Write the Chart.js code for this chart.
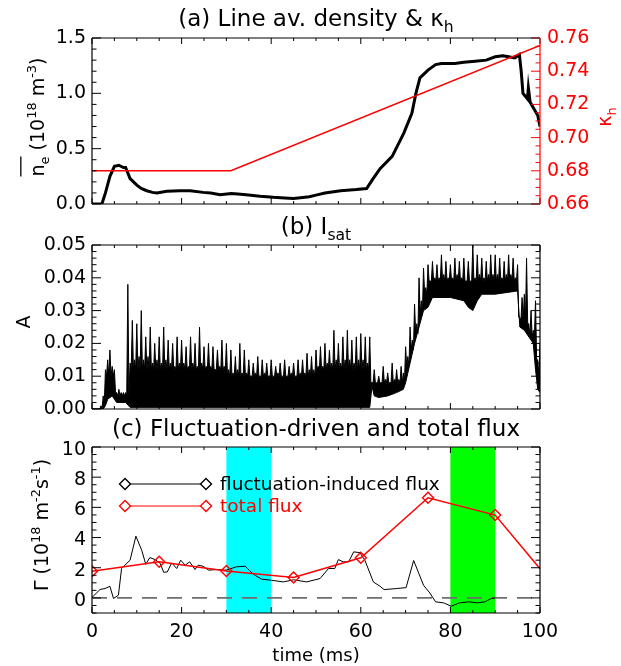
<!DOCTYPE html>
<html><head><meta charset="utf-8">
<script src="https://cdn.jsdelivr.net/npm/chart.js@4.4.1/dist/chart.umd.min.js"></script>
<style>
html,body{margin:0;padding:0;background:#fff;}
body{width:621px;height:666px;position:relative;overflow:hidden;}
canvas{position:absolute;left:0;}
</style></head><body>
<canvas id="ca" width="621" height="225" style="top:0px"></canvas>
<canvas id="cb" width="621" height="225" style="top:205px"></canvas>
<canvas id="cc" width="621" height="251" style="top:415px"></canvas>
<script>
// ---------- DATA ----------
// Panel (a): line-averaged density (1e18 m^-3) vs time (ms)
const densTime = [0, 2.2, 3, 4, 5, 6, 7, 7.5, 8.5, 10, 11, 12.2, 13.5, 14.5, 16.7, 19.6, 21.9, 24.8, 26.5, 28.6, 31.1, 32.5, 34.4, 37.5, 40.5, 43, 45, 48.5, 50, 52, 55.5, 59, 61.3, 62.6, 64.3, 67, 69.6, 71.4, 72.3, 73.2, 75, 76.7, 78, 81, 83, 85.5, 88, 90, 91.7, 93, 94.4, 95.4, 95.8, 96.2, 96.6, 97.2, 97.4, 97.8, 98.8, 99.5, 100];
const densVal  = [0, 0, 0.1, 0.25, 0.34, 0.35, 0.33, 0.33, 0.23, 0.17, 0.14, 0.12, 0.105, 0.1, 0.115, 0.12, 0.12, 0.105, 0.1, 0.084, 0.095, 0.09, 0.084, 0.069, 0.06, 0.055, 0.05, 0.066, 0.08, 0.1, 0.12, 0.13, 0.14, 0.22, 0.32, 0.43, 0.64, 0.82, 1.0, 1.14, 1.21, 1.26, 1.27, 1.27, 1.28, 1.29, 1.3, 1.33, 1.34, 1.33, 1.32, 1.35, 1.2, 1.0, 0.98, 0.95, 1.05, 0.92, 0.85, 0.8, 0.70];
// Panel (a): kappa_h (right axis)
const kappaTime = [0, 31, 100];
const kappaVal  = [0.68, 0.68, 0.7555];

// Panel (b): I_sat (A): tallest spikes at whole ms, secondary spikes at half ms,
// solid-core level (from each listed time onward) and lower edge of the trace
const isatPeak = [0,0,0.001,0.012,0.018,0.012,0.006,0.005,0.038,0.027,
  0.026,0.030,0.022,0.025,0.020,0.022,0.025,0.021,0.020,0.022,
  0.021,0.019,0.022,0.020,0.025,0.019,0.020,0.019,0.018,0.021,
  0.020,0.018,0.016,0.020,0.018,0.015,0.014,0.016,0.015,0.014,
  0.015,0.013,0.014,0.015,0.013,0.014,0.015,0.015,0.017,0.016,
  0.018,0.019,0.020,0.018,0.024,0.020,0.022,0.024,0.021,0.022,
  0.023,0.022,0.022,0.012,0.010,0.013,0.011,0.014,0.012,0.013,
  0.019,0.025,0.032,0.040,0.043,0.044,0.045,0.044,0.047,0.045,
  0.044,0.046,0.045,0.046,0.045,0.050,0.047,0.046,0.045,0.047,
  0.047,0.046,0.045,0.047,0.046,0.044,0.034,0.046,0.030,0.033,0.020];
const isatCore = [0,0,0.004,0.015,0.013,0.005,0.005,0.005,0.014,0.015,
  0.016,0.015,0.016,0.014,0.015,0.014,0.015,0.014,0.013,0.014,
  0.014,0.013,0.014,0.013,0.014,0.013,0.013,0.012,0.013,0.013,
  0.012,0.011,0.012,0.011,0.011,0.010,0.011,0.010,0.011,0.010,
  0.010,0.011,0.010,0.010,0.011,0.010,0.011,0.011,0.012,0.012,
  0.013,0.013,0.014,0.014,0.015,0.014,0.015,0.015,0.014,0.015,
  0.015,0.014,0.008,0.008,0.008,0.009,0.008,0.009,0.009,0.011,
  0.016,0.021,0.026,0.033,0.037,0.039,0.040,0.040,0.041,0.040,
  0.040,0.041,0.040,0.039,0.039,0.040,0.041,0.040,0.041,0.041,
  0.041,0.040,0.041,0.041,0.040,0.028,0.035,0.026,0.024,0.015];
const isatBaseTime = [0, 2.5, 3, 5.5, 8.5, 30, 50, 62.3, 70, 71, 72, 73, 74, 75, 95.3, 97.3, 99.3];
const isatBaseVal  = [0, 0.002, 0.010, 0.004, 0.012, 0.010, 0.012, 0.008, 0.013, 0.018, 0.023, 0.029, 0.035, 0.039, 0.027, 0.022, 0.010];
const isatLowTime = [0, 2.5, 3, 3.5, 4.5, 5.5, 7.5, 8.5, 62, 62.5, 63, 64, 66, 68, 69.5, 70, 71, 72, 73, 74, 75, 76, 80, 83, 84, 85, 86, 87, 90, 95, 95.5, 96.5, 98, 98.5, 99, 99.5, 100];
const isatLowVal  = [0, 0, 0.001, 0.003, 0.004, 0.002, 0.002, 0.0005, 0.0005, 0.007, 0.004, 0.0035, 0.004, 0.005, 0.006, 0.008, 0.014, 0.020, 0.025, 0.030, 0.031, 0.034, 0.034, 0.033, 0.031, 0.030, 0.033, 0.035, 0.035, 0.036, 0.025, 0.024, 0.021, 0.020, 0.012, 0.006, 0.005];

// Panel (c): fluctuation-induced flux and total flux (1e18 m^-2 s^-1)
const fluxTime = [0, 1.8, 2.9, 4.0, 4.8, 5.9, 6.6, 8.5, 9.8, 11.1, 12.0, 12.9, 14.1, 15.2, 16.0, 16.8, 17.8, 18.9, 19.8, 20.8, 21.8, 23.0, 23.7, 24.8, 26.0, 27.8, 30.0, 32.2, 34.2, 36.0, 37.9, 40.1, 42.7, 45.0, 47.9, 50.9, 52.8, 54.2, 55.0, 56.1, 57.3, 58.4, 59.8, 60.9, 62.8, 64.3, 65.2, 67.9, 70.1, 71.8, 74.0, 75.4, 76.7, 78.5, 80.2, 82.0, 84.2, 86.0, 87.7, 89.1, 90.0];
const fluxVal  = [0.03, 0.56, 0.62, 0.77, -0.04, 0.18, 1.95, 2.5, 4.09, 3.16, 2.23, 2.67, 2.54, 2.3, 1.7, 1.72, 2.32, 1.95, 2.5, 2.17, 2.39, 1.88, 2.17, 2.1, 1.84, 1.88, 1.84, 2.06, 2.1, 1.57, 1.24, 1.17, 1.06, 1.2, 1.06, 1.28, 1.95, 1.95, 2.54, 2.39, 2.39, 3.05, 3.0, 2.5, 1.06, 0.77, 0.55, 0.62, 0.68, 2.48, 0.84, 0.33, -0.26, -0.33, -0.55, -0.33, -0.26, -0.33, -0.26, -0.04, 0];
const totalTime = [0, 15, 30, 45, 60, 75, 90, 100];
const totalVal  = [1.76, 2.4, 1.78, 1.36, 2.66, 6.64, 5.49, 1.93];
const bandRanges = [[30, 40], [80, 90]];
const bandColors = ['#00ffff', '#00ff00'];
const legendLabels = ['fluctuation-induced flux', 'total flux'];

// tick label steps
const xTickStep = 20;

// ---------- helpers ----------
const FONT = "'DejaVu Sans', sans-serif";
Chart.defaults.font.family = FONT;
Chart.defaults.color = '#000';
const xy = (ts, vs) => ts.map((t, i) => ({x: t, y: vs[i]}));

function drawRich(ctx, it) {
  const size = it.size || 19;
  ctx.save();
  ctx.translate(it.x, it.y);
  if (it.rot) ctx.rotate(it.rot);
  let total = 0;
  const parts = it.segs.map(s => {
    const fs = s.s ? size * 0.68 : size;
    ctx.font = fs + 'px ' + FONT;
    const w = ctx.measureText(s.t).width;
    total += w;
    return {s, fs, w};
  });
  let cx = it.align === 'left' ? 0 : -total / 2;
  ctx.fillStyle = it.color || '#000';
  ctx.textBaseline = 'alphabetic';
  ctx.textAlign = 'left';
  let o0 = null, o1 = null;
  for (const p of parts) {
    ctx.font = p.fs + 'px ' + FONT;
    const dy = p.s.s === 1 ? -size * 0.42 : (p.s.s === -1 ? size * 0.25 : 0);
    ctx.fillText(p.s.t, cx, dy);
    if (p.s.ol) { if (o0 === null) o0 = cx; o1 = cx + p.w; }
    cx += p.w;
  }
  if (o0 !== null) {
    ctx.strokeStyle = it.color || '#000'; ctx.lineWidth = 1.3;
    ctx.beginPath(); ctx.moveTo(o0, -size * 1.22); ctx.lineTo(o1, -size * 1.22); ctx.stroke();
  }
  ctx.restore();
}

const texts = {
  id: 'texts',
  afterDraw(chart, args, o) { (o.items || []).forEach(it => drawRich(chart.ctx, it)); }
};

const bands = {
  id: 'bands',
  beforeDatasetsDraw(chart, args, o) {
    if (!o.ranges) return;
    const {ctx, chartArea: a, scales: {x}} = chart;
    ctx.save();
    o.ranges.forEach((r, i) => {
      const x0 = x.getPixelForValue(r[0]), x1 = x.getPixelForValue(r[1]);
      ctx.fillStyle = o.colors[i];
      ctx.fillRect(x0, a.top, x1 - x0, a.bottom - a.top);
    });
    ctx.restore();
  }
};

const legendC = {
  id: 'legendC',
  afterDraw(chart, args, o) {
    if (!o.labels) return;
    const ctx = chart.ctx;
    ctx.save();
    o.labels.forEach((lab, i) => {
      const y = o.y0 + i * o.dy, c = o.colors[i];
      ctx.strokeStyle = c; ctx.lineWidth = 1.2;
      ctx.beginPath(); ctx.moveTo(o.x0, y); ctx.lineTo(o.x1, y); ctx.stroke();
      [o.x0, o.x1].forEach(px => {
        const r = 5.5;
        ctx.lineWidth = 1.4;
        ctx.fillStyle = '#fff';
        ctx.beginPath(); ctx.moveTo(px, y - r); ctx.lineTo(px + r, y); ctx.lineTo(px, y + r); ctx.lineTo(px - r, y); ctx.closePath();
        ctx.fill(); ctx.stroke();
      });
      ctx.fillStyle = c; ctx.font = o.size + 'px ' + FONT;
      ctx.textBaseline = 'middle'; ctx.textAlign = 'left';
      ctx.fillText(lab, o.tx, y + 1);
    });
    ctx.restore();
  }
};

const idlBox = {
  id: 'idlBox',
  afterDraw(chart, args, o) {
    const {ctx, chartArea: a, scales} = chart;
    ctx.save();
    const seg = (x1, y1, x2, y2, c, w) => { ctx.strokeStyle = c; ctx.lineWidth = w; ctx.beginPath(); ctx.moveTo(x1, y1); ctx.lineTo(x2, y2); ctx.stroke(); };
    const isMul = (v, m) => Math.abs(v / m - Math.round(v / m)) < 1e-6;
    const xs = scales.x;
    for (let k = Math.ceil(xs.min / o.xMinor - 1e-9); k * o.xMinor <= xs.max + 1e-9; k++) {
      const v = k * o.xMinor, px = xs.getPixelForValue(v);
      const L = isMul(v, o.xMajor) ? 6 : 3;
      seg(px, a.bottom, px, a.bottom - L, '#000', 1);
      seg(px, a.top, px, a.top + L, '#000', 1);
    }
    const yTicks = (sc, major, minor, side, color) => {
      for (let k = Math.ceil(sc.min / minor - 1e-9); k * minor <= sc.max + 1e-9; k++) {
        const v = k * minor, py = sc.getPixelForValue(v);
        const L = isMul(v, major) ? 9 : 4.5;
        if (side === 'left') seg(a.left, py, a.left + L, py, color, 1);
        else seg(a.right, py, a.right - L, py, color, 1);
      }
    };
    yTicks(scales.y, o.yMajor, o.yMinor, 'left', '#000');
    if (o.right) yTicks(scales.y1, o.right.major, o.right.minor, 'right', o.right.color);
    else yTicks(scales.y, o.yMajor, o.yMinor, 'right', '#000');
    const rc = o.right ? o.right.color : '#000';
    seg(a.left, a.top, a.right, a.top, '#000', 1.2);
    seg(a.left, a.bottom, a.right, a.bottom, '#000', 1.2);
    seg(a.left, a.top, a.left, a.bottom, '#000', 1.2);
    seg(a.right, a.top, a.right, a.bottom, rc, 1.2);
    ctx.restore();
  }
};

const hiddenGrid = {display: false, drawTicks: false};
const noBorder = {display: false};
const fitX = h => s => { s.height = h; s.paddingLeft = 0; s.paddingRight = 0; };
const fitY = w => s => { s.width = w; s.paddingTop = 0; s.paddingBottom = 0; };
const xHidden = h => ({type: 'linear', min: 0, max: 100, ticks: {display: false}, grid: hiddenGrid, border: noBorder, afterFit: fitX(h)});
const baseOpts = {responsive: false, animation: false, events: [], plugins: {legend: {display: false}, tooltip: {enabled: false}}};

// ---------- Panel (a) ----------
new Chart(document.getElementById('ca'), {
  type: 'line',
  data: {datasets: [
    {data: xy(kappaTime, kappaVal), yAxisID: 'y1', borderColor: '#ff0000', borderWidth: 1.6, pointRadius: 0},
    {data: xy(densTime, densVal), yAxisID: 'y', borderColor: '#000', borderWidth: 3, pointRadius: 0}
  ]},
  options: {...baseOpts,
    layout: {padding: {top: 38, left: 0, right: 0, bottom: 0}},
    plugins: {...baseOpts.plugins,
      idlBox: {xMajor: 20, xMinor: 5, yMajor: 0.5, yMinor: 0.1, right: {major: 0.02, minor: 0.005, color: '#ff0000'}},
      texts: {items: [
        {segs: [{t: '(a) Line av. density & κ'}, {t: 'h', s: -1}], x: 316, y: 26, size: 23},
        {segs: [{t: 'n', ol: 1}, {t: 'e', s: -1, ol: 1}, {t: ' (10'}, {t: '18', s: 1}, {t: ' m'}, {t: '-3', s: 1}, {t: ')'}], x: 44, y: 117, size: 19, rot: -Math.PI / 2},
        {segs: [{t: 'κ'}, {t: 'h', s: -1}], x: 611, y: 117, size: 19, rot: -Math.PI / 2, color: '#ff0000'}
      ]}
    },
    scales: {
      x: xHidden(21),
      y: {position: 'left', min: 0, max: 1.5, ticks: {stepSize: 0.5, callback: v => v.toFixed(1), padding: 6, font: {size: 19}, color: '#000'}, grid: hiddenGrid, border: noBorder, afterFit: fitY(92)},
      y1: {position: 'right', min: 0.66, max: 0.76, ticks: {stepSize: 0.02, callback: v => v.toFixed(2), padding: 7, font: {size: 19}, color: '#ff0000'}, grid: hiddenGrid, border: noBorder, afterFit: fitY(81)}
    }
  },
  plugins: [idlBox, texts]
});

// ---------- Panel (b) ----------
const baseAt = t => { let v = 0; isatBaseTime.forEach((bt, i) => { if (bt <= t) v = isatBaseVal[i]; }); return v; };
const isatTop = [];
for (let j = 0; j <= 200; j++) {
  const t = j / 2;
  const v = j % 2 === 0 ? isatPeak[j / 2] : isatCore[(j - 1) / 2];
  isatTop.push({x: t, y: v});
  if (j < 200) {
    const nv = (j + 1) % 2 === 0 ? isatPeak[(j + 1) / 2] : isatCore[j / 2];
    isatTop.push({x: t + 0.25, y: Math.min(baseAt(t + 0.25), v, nv)});
  }
}
new Chart(document.getElementById('cb'), {
  type: 'line',
  data: {datasets: [
    {data: xy(isatLowTime, isatLowVal), borderColor: '#000', borderWidth: 1, pointRadius: 0},
    {data: isatTop, borderColor: '#000', borderWidth: 1, pointRadius: 0, fill: '-1', backgroundColor: '#000'}
  ]},
  options: {...baseOpts,
    layout: {padding: {top: 40, left: 0, right: 81, bottom: 0}},
    plugins: {...baseOpts.plugins,
      idlBox: {xMajor: 20, xMinor: 5, yMajor: 0.01, yMinor: 0.002},
      texts: {items: [
        {segs: [{t: '(b) I'}, {t: 'sat', s: -1}], x: 316, y: 29, size: 23},
        {segs: [{t: 'A'}], x: 30, y: 117, size: 19, rot: -Math.PI / 2}
      ]}
    },
    scales: {
      x: xHidden(21),
      y: {position: 'left', min: 0, max: 0.05, ticks: {stepSize: 0.01, callback: v => v.toFixed(2), padding: 6, font: {size: 19}, color: '#000'}, grid: hiddenGrid, border: noBorder, afterFit: fitY(92)}
    }
  },
  plugins: [idlBox, texts]
});

// ---------- Panel (c) ----------
new Chart(document.getElementById('cc'), {
  type: 'line',
  data: {datasets: [
    {data: xy(totalTime, totalVal), borderColor: '#ff0000', borderWidth: 1.5, pointStyle: 'rectRot',
     pointRadius: totalTime.map(t => t >= 100 ? 0 : 5.5), pointBorderColor: '#ff0000', pointBackgroundColor: 'rgba(0,0,0,0)', pointBorderWidth: 1.4},
    {data: xy(fluxTime, fluxVal), borderColor: '#000', borderWidth: 1, pointRadius: 0},
    {data: [{x: 0, y: 0}, {x: 100, y: 0}], borderColor: '#6e6e6e', borderWidth: 1.6, borderDash: [15, 10], pointRadius: 0}
  ]},
  options: {...baseOpts,
    layout: {padding: {top: 32, left: 0, right: 81, bottom: 0}},
    plugins: {...baseOpts.plugins,
      bands: {ranges: bandRanges, colors: bandColors},
      legendC: {labels: legendLabels, colors: ['#000', '#ff0000'], x0: 125, x1: 206, tx: 220, y0: 69, dy: 22, size: 18.5},
      idlBox: {xMajor: 20, xMinor: 5, yMajor: 2, yMinor: 0.5},
      texts: {items: [
        {segs: [{t: '(c) Fluctuation-driven and total flux'}], x: 316, y: 21, size: 23},
        {segs: [{t: 'Γ (10'}, {t: '18', s: 1}, {t: ' m'}, {t: '-2', s: 1}, {t: 's'}, {t: '-1', s: 1}, {t: ')'}], x: 48, y: 110, size: 19, rot: -Math.PI / 2},
        {segs: [{t: 'time (ms)'}], x: 316, y: 246, size: 18}
      ]}
    },
    scales: {
      x: {type: 'linear', min: 0, max: 100, ticks: {stepSize: xTickStep, padding: 8, font: {size: 19}, color: '#000'}, grid: hiddenGrid, border: noBorder, afterFit: fitX(53)},
      y: {position: 'left', min: -1, max: 10, ticks: {stepSize: 2, includeBounds: false, labelOffset: 3, callback: v => (v < 0 ? '' : String(v)), padding: 6, font: {size: 19}, color: '#000'}, grid: hiddenGrid, border: noBorder, afterFit: fitY(92)}
    }
  },
  plugins: [bands, idlBox, texts, legendC]
});
</script>
</body></html>
